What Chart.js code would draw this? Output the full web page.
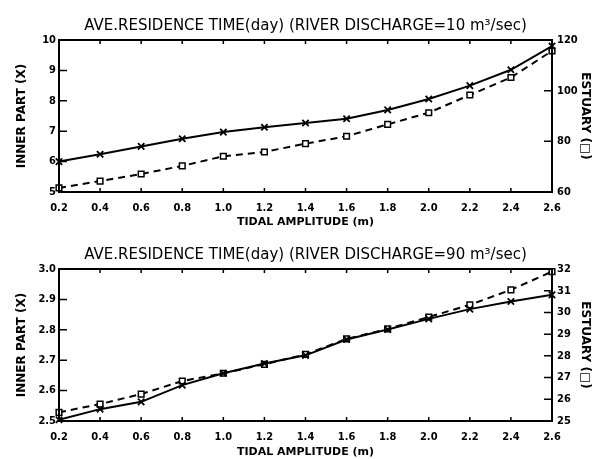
<!DOCTYPE html>
<html lang="en">
<head>
<meta charset="UTF-8">
<title>Ave. residence time</title>
<script src="https://cdn.jsdelivr.net/npm/chart.js"></script>
<style>
  body { margin: 0; background: #fff; }
  .painel { position: absolute; left: 0; }
</style>
</head>
<body>
<canvas id="chartTop" class="painel" width="594" height="229" style="top:0"></canvas>
<canvas id="chartBottom" class="painel" width="594" height="230" style="top:229px"></canvas>
<script>
  // tidal amplitude (m)
  var amplitude = [0.2, 0.4, 0.6, 0.8, 1.0, 1.2, 1.4, 1.6, 1.8, 2.0, 2.2, 2.4, 2.6];
  var xTicks = [0.2, 0.4, 0.6, 0.8, 1.0, 1.2, 1.4, 1.6, 1.8, 2.0, 2.2, 2.4, 2.6];

  // river discharge = 10 m3/sec
  var inner10 = [6.0, 6.24, 6.5, 6.75, 6.97, 7.13, 7.27, 7.41, 7.7, 8.06, 8.5, 9.02, 9.8];
  var estuary10 = [61.6, 64.3, 67.1, 70.3, 74.1, 75.8, 79.1, 82.0, 86.7, 91.3, 98.3, 105.2, 115.7];
  var innerTicks10 = [5, 6, 7, 8, 9, 10];
  var estuaryTicks10 = [60, 80, 100, 120];

  // river discharge = 90 m3/sec
  var inner90 = [2.504, 2.539, 2.563, 2.618, 2.657, 2.689, 2.716, 2.768, 2.801, 2.836, 2.868, 2.893, 2.915];
  var estuary90 = [25.4, 25.78, 26.24, 26.84, 27.2, 27.61, 28.07, 28.78, 29.24, 29.79, 30.35, 31.04, 31.88];
  var innerTicks90 = [2.5, 2.6, 2.7, 2.8, 2.9, 3.0];
  var estuaryTicks90 = [25, 26, 27, 28, 29, 30, 31, 32];

  var fonte = 'DejaVu Sans Condensed, DejaVu Sans, sans-serif';
  var fonteLarga = 'DejaVu Sans, sans-serif';

  // moldura e tracinhos para dentro
  var moldura = {
    id: 'moldura',
    afterDraw: function (chart) {
      var ctx = chart.ctx, a = chart.chartArea, s = chart.scales;
      ctx.save();
      ctx.strokeStyle = '#000';
      ctx.lineWidth = 2;
      ctx.strokeRect(a.left, a.top, a.right - a.left, a.bottom - a.top);
      ctx.lineWidth = 1.5;
      ctx.beginPath();
      s.x.ticks.forEach(function (t) {
        var px = s.x.getPixelForValue(t.value);
        ctx.moveTo(px, a.bottom); ctx.lineTo(px, a.bottom - 4);
        ctx.moveTo(px, a.top); ctx.lineTo(px, a.top + 4);
      });
      s.y.ticks.forEach(function (t) {
        var py = s.y.getPixelForValue(t.value);
        ctx.moveTo(a.left, py); ctx.lineTo(a.left + 8, py);
      });
      s.y1.ticks.forEach(function (t) {
        var py = s.y1.getPixelForValue(t.value);
        ctx.moveTo(a.right, py); ctx.lineTo(a.right - 8, py);
      });
      ctx.stroke();
      ctx.restore();
    }
  };

  function grafico(id, titulo, inner, estuary, yTicks, y1Ticks, casas, altura) {
    var ctx = document.getElementById(id);
    var fixo = function (lista) {
      return function (scale) { scale.ticks = lista.map(function (v) { return { value: v }; }); };
    };
    new Chart(ctx, {
      type: 'line',
      data: {
        labels: amplitude,
        datasets: [{
          label: 'INNER PART',
          data: inner,
          yAxisID: 'y',
          borderColor: '#000',
          borderWidth: 2,
          pointStyle: 'crossRot',
          pointRadius: 4.5,
          pointBorderWidth: 1.8,
          pointBorderColor: '#000',
          tension: 0,
          clip: false
        }, {
          label: 'ESTUARY',
          data: estuary,
          yAxisID: 'y1',
          borderColor: '#000',
          borderWidth: 2,
          borderDash: [7, 5],
          pointStyle: 'rect',
          pointRadius: 4,
          pointBorderWidth: 1.5,
          pointBorderColor: '#000',
          pointBackgroundColor: '#fff',
          tension: 0,
          clip: false
        }]
      },
      options: {
        responsive: false,
        animation: false,
        layout: { padding: 0 },
        plugins: {
          legend: { display: false },
          tooltip: { enabled: false },
          title: {
            display: true,
            fullSize: false,
            text: titulo,
            color: '#000',
            font: { family: fonteLarga, size: 15, weight: 'normal', lineHeight: 1 },
            padding: { top: 19, bottom: 6 }
          }
        },
        scales: {
          x: {
            type: 'linear',
            min: 0.2,
            max: 2.6,
            afterBuildTicks: fixo(xTicks),
            afterFit: function (scale) { scale.height = altura - 192; },
            grid: { display: false, drawTicks: false },
            border: { display: false },
            ticks: {
              color: '#000',
              padding: 10,
              maxRotation: 0,
              font: { family: fonte, size: 11, weight: 'bold' },
              callback: function (v) { return v.toFixed(1); }
            },
            title: {
              display: true,
              text: 'TIDAL AMPLITUDE (m)',
              color: '#000',
              font: { family: fonteLarga, size: 11, weight: 'bold', lineHeight: 1 },
              padding: { top: 0, bottom: 1 }
            }
          },
          y: {
            position: 'left',
            min: yTicks[0],
            max: yTicks[yTicks.length - 1],
            afterBuildTicks: fixo(yTicks),
            afterFit: function (scale) { scale.width = 59; },
            grid: { display: false, drawTicks: false },
            border: { display: false },
            ticks: {
              color: '#000',
              padding: 3,
              font: { family: fonte, size: 11, weight: 'bold' },
              callback: function (v) { return v.toFixed(casas); }
            },
            title: {
              display: true,
              text: 'INNER PART (X)',
              color: '#000',
              font: { family: fonteLarga, size: 12, weight: 'bold', lineHeight: 1 },
              padding: { top: 16, bottom: 0 }
            }
          },
          y1: {
            position: 'right',
            min: y1Ticks[0],
            max: y1Ticks[y1Ticks.length - 1],
            afterBuildTicks: fixo(y1Ticks),
            afterFit: function (scale) { scale.width = 42; },
            grid: { display: false, drawTicks: false },
            border: { display: false },
            ticks: {
              color: '#000',
              padding: 5,
              font: { family: fonte, size: 11, weight: 'bold' },
              callback: function (v) { return String(v); }
            },
            title: {
              display: true,
              text: 'ESTUARY (□)',
              color: '#000',
              font: { family: fonteLarga, size: 12, weight: 'bold', lineHeight: 1 },
              padding: { top: 3, bottom: 0 }
            }
          }
        }
      },
      plugins: [moldura]
    });
  }

  grafico('chartTop', 'AVE.RESIDENCE TIME(day) (RIVER DISCHARGE=10 m³/sec)',
    inner10, estuary10, innerTicks10, estuaryTicks10, 0, 229);
  grafico('chartBottom', 'AVE.RESIDENCE TIME(day) (RIVER DISCHARGE=90 m³/sec)',
    inner90, estuary90, innerTicks90, estuaryTicks90, 1, 230);
</script>
</body>
</html>
